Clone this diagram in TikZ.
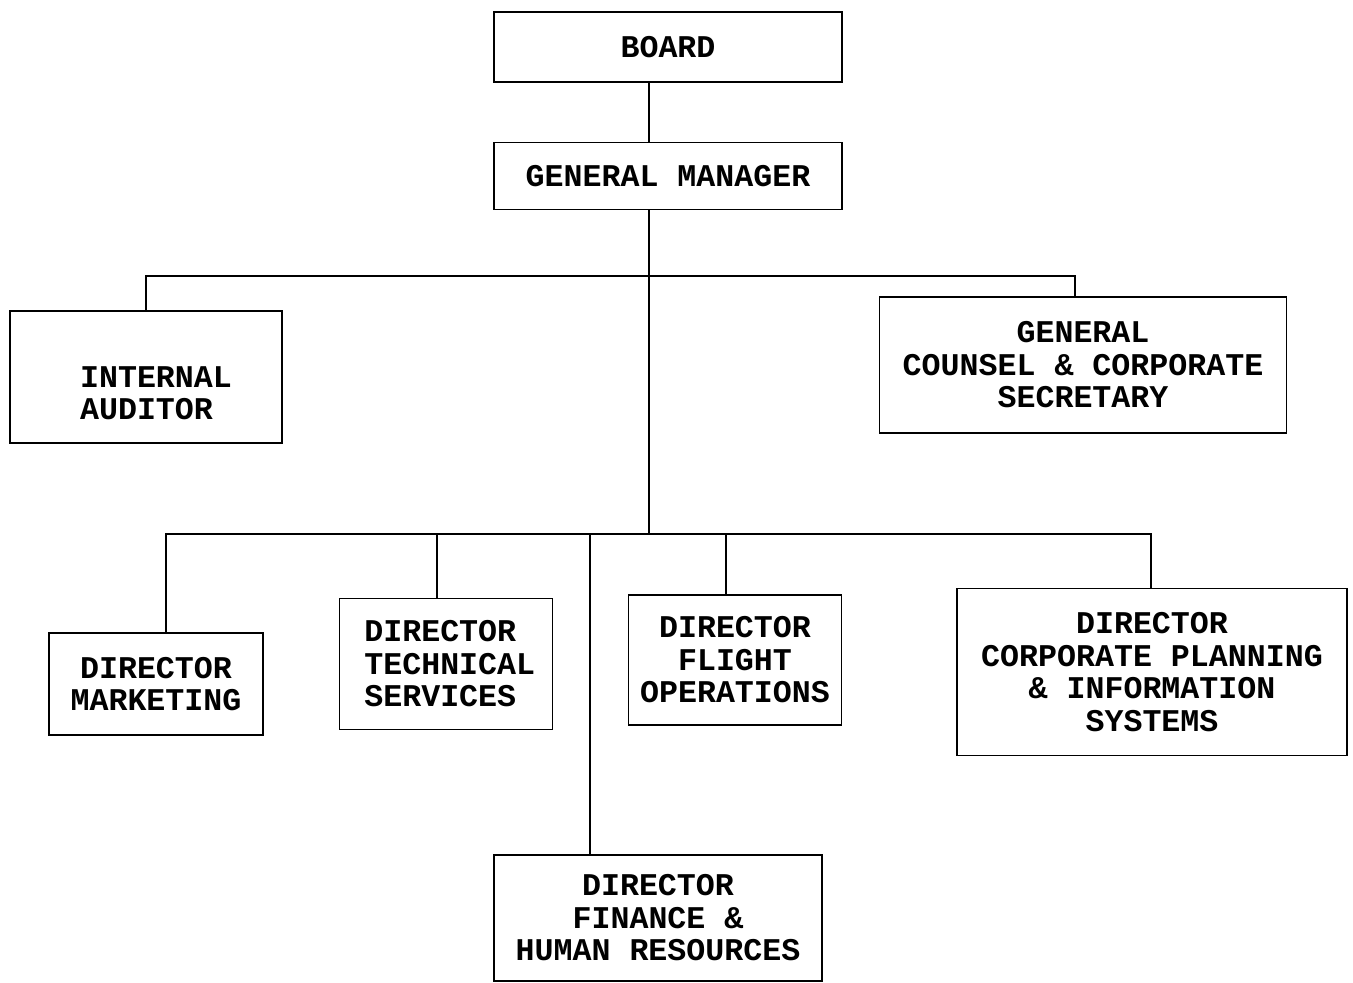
\documentclass[tikz,border=0pt]{standalone}
\usepackage{fontspec}
\setmonofont{Liberation Mono}
\usetikzlibrary{calc}
\tikzset{
	post/.style={draw, line width=1pt, rectangle, inner sep=0pt, font=\ttfamily\bfseries\fontsize{18}{18.5}\selectfont, align=center},
	postext/.style={inner sep=0pt, font=\ttfamily\bfseries\fontsize{18}{18.5}\selectfont, align=left},
	link/.style={line width=1pt}
}

\begin{document}
\begin{tikzpicture}[x=0.02cm, y=-0.02cm]
			%%%%% START %%%%%
			
			\useasboundingbox (0, 0) rectangle (1353, 983);
			
			\node[post, minimum width=6.96cm, minimum height=1.4cm] (board) at (668, 47) {BOARD};
			\node[post, minimum width=6.96cm, minimum height=1.34cm] (gm) at (668, 176) {GENERAL MANAGER};
			
			\node[post, minimum width=5.44cm, minimum height=2.64cm] (audit) at (146, 377) {};
			\node[postext] (audittext) at ($(audit.center)+(10, 16)$) {INTERNAL\\AUDITOR};
			\node[post, minimum width=8.14cm, minimum height=2.72cm] (counsel) at (1083, 365) {GENERAL\\COUNSEL \& CORPORATE\\SECRETARY};
			
			\node[post, minimum width=4.28cm, minimum height=2.04cm] (mkt) at (156, 684) {DIRECTOR\\MARKETING};
			\node[post, minimum width=4.26cm, minimum height=2.62cm, align=left] (tech) at (446, 664) {\hspace*{0.15cm}DIRECTOR\\\hspace*{0.15cm}TECHNICAL\\\hspace*{0.15cm}SERVICES};
			\node[post, minimum width=4.26cm, minimum height=2.6cm] (flight) at (735, 660) {DIRECTOR\\FLIGHT\\OPERATIONS};
			\node[post, minimum width=7.8cm, minimum height=3.34cm] (corp) at (1152, 672) {DIRECTOR\\CORPORATE PLANNING\\\& INFORMATION\\SYSTEMS};
			\node[post, minimum width=6.56cm, minimum height=2.52cm] (fin) at (658, 918) {DIRECTOR\\FINANCE \&\\HUMAN RESOURCES};
			
			% trunk and branch points
			\coordinate (upper) at (649, 276);
			\coordinate (lower) at (649, 534);
			\coordinate (cleft) at (1075, 276);
			\coordinate (dmkt) at (166, 534);
			\coordinate (dtech) at (437, 534);
			\coordinate (dfin) at (590, 534);
			\coordinate (dflight) at (726, 534);
			\coordinate (dcorp) at (1151, 534);
			
			\draw[link] (upper |- board.south) -- (upper |- gm.north);
			\draw[link] (upper |- gm.south) -- (lower);
			\draw[link] (audit.north) |- (upper) -- (cleft) -- (cleft |- counsel.north);
			
			\draw[link] (dmkt |- mkt.north) -- (dmkt) -- (dcorp) -- (dcorp |- corp.north);
			\draw[link] (dtech) -- (dtech |- tech.north);
			\draw[link] (dfin) -- (dfin |- fin.north);
			\draw[link] (dflight) -- (dflight |- flight.north);
			
			%%%%% END %%%%%
		\end{tikzpicture}
\end{document}
